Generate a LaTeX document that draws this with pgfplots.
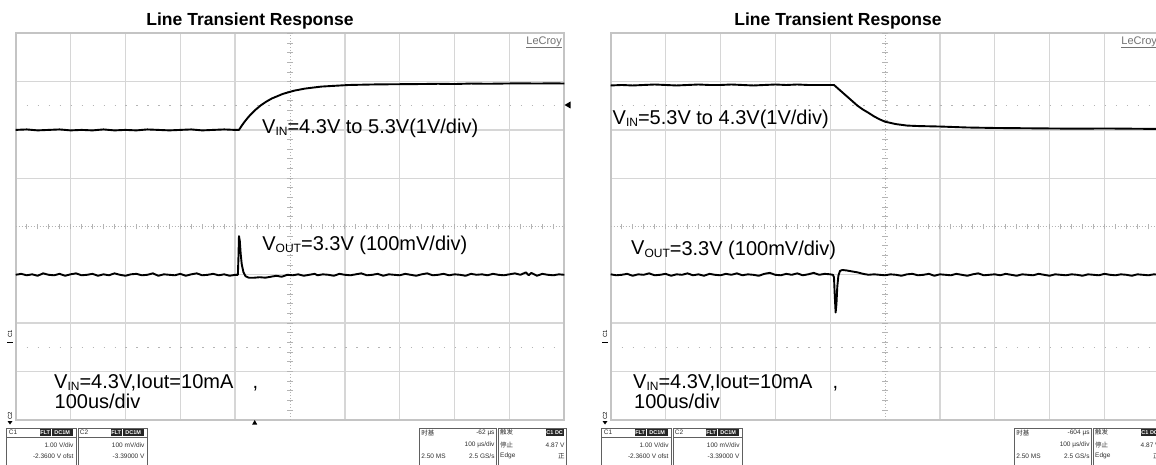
\documentclass[border=0pt]{standalone}
\usepackage{fontspec}
\setmainfont{Liberation Sans}
\newfontfamily\cjk{Noto Sans CJK SC}
\usepackage{graphicx}
\usepackage{pgfplots}
\pgfplotsset{compat=1.18}
\definecolor{gridc}{HTML}{D6D6D6}
\definecolor{bordc}{HTML}{C4C4C4}
\definecolor{tickc}{HTML}{B4B4B4}
\definecolor{boxc}{HTML}{606060}
\definecolor{txtc}{HTML}{303030}
\newcommand{\fs}[1]{\fontsize{#1}{#1}\selectfont}
\newcommand{\sub}[1]{\raisebox{-2pt}{\fs{12}#1}}
\pgfplotsset{
  scopeaxis/.style={scale only axis, width=548.6pt, height=386.4pt,
    xmin=0, xmax=10, ymin=0, ymax=8,
    xtick={0,1,2,3,4,6,7,8,9,10}, ytick={0,1,2,3,5,6,7,8},
    xticklabels={}, yticklabels={}, major tick length=0pt,
    grid=major, major grid style={gridc, line width=1.3pt},
    axis line style={bordc, line width=1.8pt},
    anchor=south west, clip=true},
  trace/.style={black, line width=1.9pt, no markers, line join=round},
}
\newcommand{\scopedeco}{%
  \draw[tickc, line width=0.9pt, dash pattern=on 1pt off 2pt] (axis cs:5,0) -- (axis cs:5,8);
  \draw[tickc, line width=0.9pt, dash pattern=on 1pt off 2pt] (axis cs:0,4) -- (axis cs:10,4);
  \pgfplotsinvokeforeach{0.2,0.4,...,7.9}{\draw[tickc, line width=0.9pt] (axis cs:4.95,##1) -- (axis cs:5.05,##1);}
  \pgfplotsinvokeforeach{0.2,0.4,...,9.9}{\draw[tickc, line width=0.9pt] (axis cs:##1,3.94) -- (axis cs:##1,4.06);}
  \draw[tickc, line width=1.2pt, dash pattern=on 1.5pt off 9.48pt] (axis cs:0.2,6.5) -- (axis cs:10,6.5);
  \draw[tickc, line width=1.2pt, dash pattern=on 1.5pt off 9.48pt] (axis cs:0.2,1.5) -- (axis cs:10,1.5);
}
% status boxes, relative to panel grid left edge
\newcommand{\statusbar}[2]{% #1 = x shift, #2 = time offset
\begin{scope}[xshift=#1pt]
  \begin{scope}[boxc, line width=0.7pt]
    \draw (-9,36) rectangle (60.3,-6);
    \draw (-9,27) -- (60.3,27);
    \draw (62.3,36) rectangle (131.3,-6);
    \draw (62.3,27) -- (131.3,27);
    \draw (403.6,36) rectangle (481,-6);
    \draw (482.3,36) rectangle (551,-6);
  \end{scope}
  \fill[black!85] (24,28.5) rectangle (35,35);
  \fill[black!85] (36,28.5) rectangle (57,35);
  \fill[black!85] (95,28.5) rectangle (106,35);
  \fill[black!85] (107,28.5) rectangle (128,35);
  \fill[black!85] (530,28.5) rectangle (548,35);
  \begin{scope}[every node/.style={inner sep=0pt, text=txtc, font=\fs{6.5}}]
    \node[anchor=west] at (-7,31.5) {C1};
    \node[white, font=\fs{5.5}\bfseries] at (29.5,31.7) {FLT};
    \node[white, font=\fs{5.5}\bfseries] at (46.5,31.7) {DC1M};
    \node[anchor=east] at (58,19) {1.00 V/div};
    \node[anchor=east] at (58,8) {-2.3600 V ofst};
    \node[anchor=west] at (64,31.5) {C2};
    \node[white, font=\fs{5.5}\bfseries] at (100.5,31.7) {FLT};
    \node[white, font=\fs{5.5}\bfseries] at (117.5,31.7) {DC1M};
    \node[anchor=east] at (129,19) {100 mV/div};
    \node[anchor=east] at (129,8) {-3.39000 V};
    \node[anchor=west] at (405.5,31.5) {\cjk 时基};
    \node[anchor=east] at (479,31.5) {#2 µs};
    \node[anchor=east] at (479,19) {100 µs/div};
    \node[anchor=west] at (405.5,8) {2.50 MS};
    \node[anchor=east] at (479,8) {2.5 GS/s};
    \node[anchor=west] at (484.3,31.5) {\cjk 触发};
    \node[white, font=\fs{5.5}\bfseries] at (539,31.7) {C1 DC};
    \node[anchor=west] at (484.3,19) {\cjk 停止};
    \node[anchor=east] at (549,19) {4.87 V};
    \node[anchor=west] at (484.3,8) {Edge};
    \node[anchor=east] at (549,8) {\cjk 正};
  \end{scope}
  % channel markers
  \node[rotate=90, inner sep=0pt, font=\fs{6}] at (-5.7,130) {C1};
  \draw[black, line width=0.9pt] (-8.7,122) -- (-2.7,122);
  \node[rotate=90, inner sep=0pt, font=\fs{6}] at (-5.7,48) {C2};
  \fill[black] (-8.2,43) -- (-3.2,43) -- (-5.7,39.5) -- cycle;
  % LeCroy logo
  \node[anchor=base west, inner sep=0pt, text=black!55, font=\fs{11}] (lc) at (510.5,419) {LeCroy};
  \draw[black!55, line width=0.6pt] (lc.south west) ++(0,-0.3) -- ++(35.5,0);
\end{scope}}
\begin{document}
\begin{tikzpicture}[x=1pt,y=1pt]
\useasboundingbox (0,0) rectangle (1156,464);
\clip (0,0) rectangle (1156,464);
\fill[white] (0,0) rectangle (1156,464);

% ---------------- left panel ----------------
\begin{axis}[scopeaxis, at={(15.7pt,44.3pt)}]
\scopedeco
\addplot[trace] coordinates {
(0,6.00)(0.2,6.01)(0.4,5.99)(0.6,6.00)(0.8,6.01)(1.0,5.99)(1.2,6.00)(1.4,5.99)(1.6,6.01)(1.8,5.99)
(2.0,6.00)(2.2,5.99)(2.4,6.01)(2.6,6.00)(2.8,5.99)(3.0,6.00)(3.2,6.01)(3.4,5.99)(3.6,6.00)(3.8,6.01)
(4.0,6.00)(4.07,6.00)(4.12,6.087)(4.17,6.166)(4.22,6.237)(4.27,6.303)(4.37,6.416)(4.47,6.510)
(4.57,6.587)(4.67,6.651)(4.87,6.746)(5.07,6.811)(5.27,6.855)(5.57,6.897)(6.07,6.930)(6.57,6.942)
(7.07,6.947)(7.4,6.95)(7.7,6.955)(8.0,6.95)(8.3,6.96)(8.6,6.955)(8.9,6.96)(9.2,6.965)(9.5,6.96)(9.8,6.965)(10,6.96)
};
\addplot[trace] coordinates {
(0.0,3.00)(0.1,3.02)(0.2,2.99)(0.3,3.01)(0.4,2.98)(0.5,3.03)(0.6,3.00)(0.7,2.99)(0.8,3.02)(0.9,2.98)
(1.0,3.01)(1.1,3.03)(1.2,2.99)(1.3,3.00)(1.4,3.02)(1.5,2.98)(1.6,3.01)(1.7,2.99)(1.8,3.03)(1.9,3.00)
(2.0,2.98)(2.1,3.01)(2.2,3.02)(2.3,2.99)(2.4,3.00)(2.5,3.03)(2.6,2.98)(2.7,3.01)(2.8,3.00)(2.9,2.99)
(3.0,3.02)(3.1,2.98)(3.2,3.01)(3.3,3.03)(3.4,2.99)(3.5,3.00)(3.6,3.02)(3.7,2.99)(3.8,3.01)(3.9,2.98)
(4.0,3.00)(4.05,3.00)(4.06,3.35)(4.07,3.80)(4.085,3.70)(4.10,3.45)(4.12,3.22)(4.15,3.06)(4.19,2.97)
(4.25,2.94)(4.35,2.94)(4.45,2.95)(4.55,2.94)(4.65,2.96)(4.75,2.98)(4.85,2.96)(4.95,3.00)(5.05,2.99)
(5.15,3.01)(5.25,2.98)(5.35,3.00)(5.45,3.02)(5.5,2.99)(5.6,3.01)(5.7,3.00)(5.8,2.98)(5.9,3.02)
(6.0,3.00)(6.1,2.99)(6.2,3.01)(6.3,3.03)(6.4,2.99)(6.5,3.00)(6.6,3.02)(6.7,2.98)(6.8,3.01)(6.9,3.00)
(7.0,2.99)(7.1,3.02)(7.2,3.00)(7.3,2.98)(7.4,3.01)(7.5,3.03)(7.6,2.99)(7.7,3.00)(7.8,3.02)(7.9,2.99)
(8.0,3.01)(8.1,3.00)(8.2,2.98)(8.3,3.02)(8.4,3.00)(8.5,3.01)(8.6,2.99)(8.7,3.02)(8.8,3.00)(8.9,2.99)
(9.0,3.01)(9.1,3.03)(9.2,3.00)(9.3,3.05)(9.35,2.99)(9.4,3.04)(9.5,2.98)(9.6,3.02)(9.7,3.00)(9.8,2.99)
(9.9,3.01)(10.0,3.00)
};
\end{axis}

% ---------------- right panel ----------------
\begin{axis}[scopeaxis, at={(610.7pt,44.3pt)}]
\scopedeco
\addplot[trace] coordinates {
(0,6.92)(0.2,6.93)(0.4,6.92)(0.6,6.93)(0.8,6.94)(1.0,6.93)(1.2,6.92)(1.4,6.93)(1.6,6.94)(1.8,6.93)
(2.0,6.93)(2.2,6.94)(2.4,6.93)(2.6,6.92)(2.8,6.93)(3.0,6.94)(3.2,6.93)(3.4,6.94)(3.6,6.93)(3.8,6.93)
(4.0,6.93)(4.07,6.93)(4.13,6.87)(4.2,6.80)(4.3,6.70)(4.4,6.60)(4.5,6.50)(4.6,6.42)(4.69,6.36)
(4.8,6.28)(4.9,6.22)(5.0,6.17)(5.2,6.12)(5.4,6.09)(5.6,6.08)(6.0,6.07)(6.5,6.05)(7.0,6.04)
(7.5,6.035)(8.0,6.03)(8.5,6.025)(9.0,6.03)(9.5,6.025)(10,6.02)
};
\addplot[trace] coordinates {
(0.0,3.01)(0.1,2.99)(0.2,3.00)(0.3,3.02)(0.4,2.98)(0.5,3.01)(0.6,3.00)(0.7,3.03)(0.8,2.99)(0.9,3.00)
(1.0,3.02)(1.1,2.98)(1.2,3.01)(1.3,3.00)(1.4,3.03)(1.5,2.99)(1.6,3.01)(1.7,2.98)(1.8,3.02)(1.9,3.00)
(2.0,2.99)(2.1,3.02)(2.2,3.00)(2.3,3.03)(2.4,2.99)(2.5,3.01)(2.6,3.00)(2.7,2.98)(2.8,3.02)(2.9,3.04)
(3.0,3.00)(3.1,2.99)(3.2,3.02)(3.3,3.00)(3.4,3.03)(3.5,2.99)(3.6,3.01)(3.7,3.04)(3.8,3.00)(3.9,3.02)
(4.0,3.01)(4.05,3.00)(4.07,2.95)(4.085,2.55)(4.10,2.22)(4.115,2.40)(4.13,2.75)(4.15,2.98)(4.18,3.08)
(4.22,3.10)(4.3,3.09)(4.4,3.07)(4.5,3.05)(4.6,3.02)(4.7,3.00)(4.8,3.01)(4.9,3.00)(5.0,2.99)
(5.1,3.01)(5.2,3.00)(5.3,2.98)(5.4,3.01)(5.5,3.02)(5.6,2.99)(5.7,3.00)(5.8,3.02)(5.9,2.98)
(6.0,3.01)(6.1,3.00)(6.2,2.99)(6.3,3.02)(6.4,3.00)(6.5,2.98)(6.6,3.01)(6.7,3.03)(6.8,2.99)(6.9,3.00)
(7.0,3.01)(7.1,2.99)(7.2,3.02)(7.3,3.00)(7.4,2.98)(7.5,3.01)(7.6,3.00)(7.7,2.99)(7.8,3.02)(7.9,3.00)
(8.0,2.98)(8.1,3.01)(8.2,3.00)(8.3,2.99)(8.4,3.01)(8.5,3.00)(8.6,2.98)(8.7,3.01)(8.8,3.00)(8.9,2.99)
(9.0,3.02)(9.1,3.00)(9.2,2.99)(9.3,3.01)(9.4,3.00)(9.5,2.98)(9.6,3.01)(9.7,3.00)(9.8,2.99)(9.9,3.01)
(10.0,3.00)
};
\end{axis}

% ---------------- decorations ----------------
\statusbar{15.7}{-62}
\statusbar{610.7}{-604}
% trigger markers (left panel only visible)
\fill[black] (252.2,39.5) -- (257.2,39.5) -- (254.7,44) -- cycle;
\fill[black] (564.5,359) -- (570.5,362.5) -- (570.5,355.5) -- cycle;

% ---------------- titles ----------------
\node[anchor=base, inner sep=0pt, font=\fs{17.5}\bfseries] at (250,438) {Line Transient Response};
\node[anchor=base, inner sep=0pt, font=\fs{17.5}\bfseries] at (838,438) {Line Transient Response};

% ---------------- annotations ----------------
\begin{scope}[every node/.style={anchor=base west, inner sep=0pt, font=\fs{20}}]
\node at (262,330.7) {V\sub{IN}=4.3V to 5.3V(1V/div)};
\node at (262.2,213.3) {V\sub{OUT}=3.3V (100mV/div)};
\node at (54,76) {V\sub{IN}=4.3V,Iout=10mA};
\node at (252.5,76) {,};
\node at (54.5,56) {100us/div};
\node at (612.5,339) {V\sub{IN}=5.3V to 4.3V(1V/div)};
\node at (631,209) {V\sub{OUT}=3.3V (100mV/div)};
\node at (633,75.5) {V\sub{IN}=4.3V,Iout=10mA};
\node at (832.5,75.5) {,};
\node at (634,55.5) {100us/div};
\end{scope}
\end{tikzpicture}
\end{document}
